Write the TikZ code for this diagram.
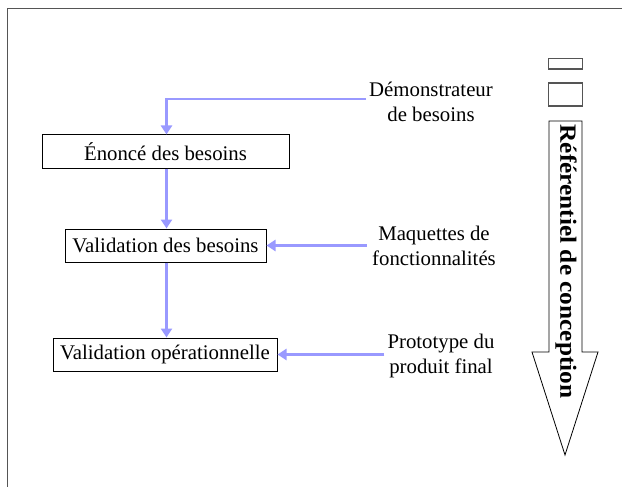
\documentclass[tikz,border=0pt]{standalone}
\usepackage{fontspec}
\setmainfont{Liberation Serif}
\usetikzlibrary{arrows.meta}
\definecolor{flow}{HTML}{9999FF}
\definecolor{frame}{HTML}{555555}
\tikzset{
  stepbox/.style={draw=black, line width=1pt, inner sep=0pt, minimum height=33pt, font=\fontsize{20.8}{25}\selectfont, anchor=center},
  lbl/.style={align=center, font=\fontsize{20.8}{25.5}\selectfont, inner sep=0pt},
  flowline/.style={draw=flow, line width=2.5pt, -{Triangle[length=9pt,width=11pt]}},
  thin/.style={draw=black, line width=1pt}
}
\begin{document}
\begin{tikzpicture}[x=1pt,y=-1pt]
\useasboundingbox (0,0) rectangle (622,487);
% frame
\draw[frame, line width=1.5pt] (7.5,487) -- (7.5,8.5) -- (622,8.5);
% boxes
\node[stepbox, minimum width=247pt] (enonce) at (165.5,151.5) {Énoncé des besoins};
\node[stepbox, minimum width=201pt] (valbes) at (165.5,245.5) {Validation des besoins};
\node[stepbox, minimum width=224pt] (valop) at (165,354.5) {Validation opérationnelle};
% labels
\node[lbl] (demo) at (431,102) {Démonstrateur\\de besoins};
\node[lbl] (maq) at (434,246) {Maquettes de\\fonctionnalités};
\node[lbl] (proto) at (441,356) {Prototype du\\produit final};
% connectors
\coordinate (demoend) at (366,99);
\coordinate (corner) at (166.5,99);
\draw[flowline] (demoend) -- (corner) -- (corner |- enonce.north);
\draw[flowline] (enonce.south -| corner) -- (corner |- valbes.north);
\draw[flowline] (valbes.south -| corner) -- (corner |- valop.north);
\draw[flowline] (maq.west |- valbes.east) ++(-5,0) -- (valbes.east);
\draw[flowline] (proto.west |- valop.east) ++(-3,0) -- (valop.east);
% right side
\draw[frame, line width=1.2pt] (548.5,58.5) rectangle (582.5,69);
\draw[frame, line width=1.2pt] (548.5,83) rectangle (582.5,106);
\draw[thin, line width=0.8pt] (549,121) -- (582,121) -- (582,352) -- (598,352) -- (565,455) -- (532,352) -- (549,352) -- cycle;
\node[rotate=-90, font=\fontsize{25.3}{28}\bfseries\selectfont, inner sep=0pt, yscale=0.92] (ref) at (566,261.5) {Référentiel de conception};
\end{tikzpicture}
\end{document}
